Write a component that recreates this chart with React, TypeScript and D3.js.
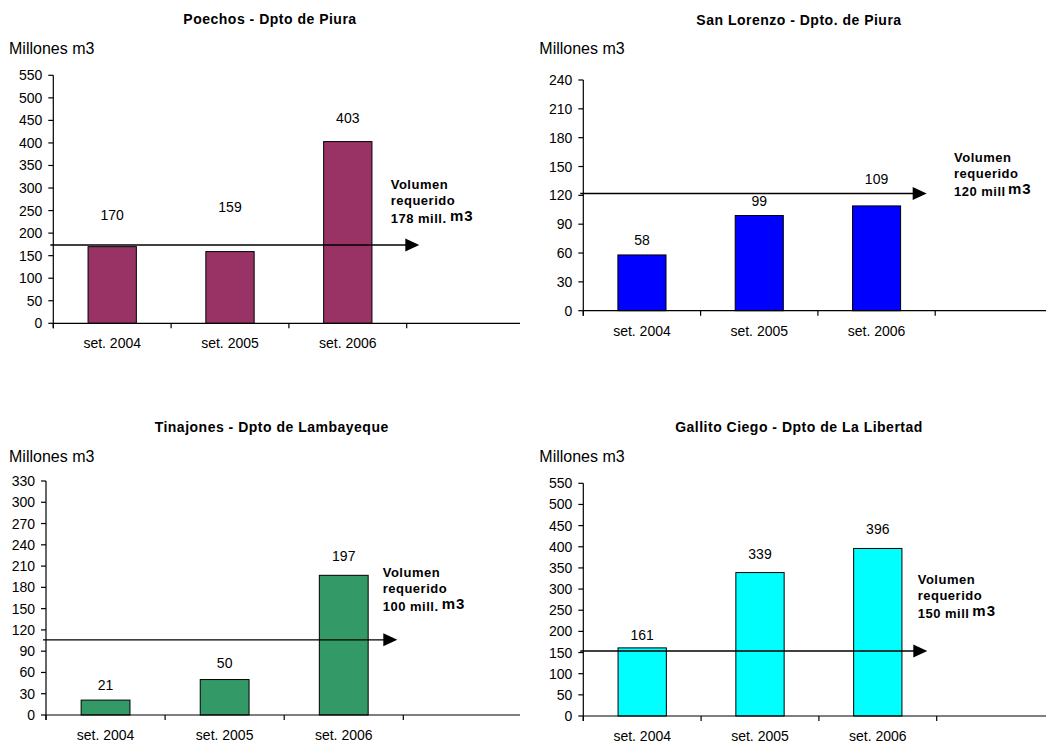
import * as d3 from 'd3';

// Categories (the 4th slot is empty in the original, it only stretches the axis)
const categories = ['set. 2004', 'set. 2005', 'set. 2006', ''];

// Reservoir volumes, millones m3
const poechosValues = [170, 159, 403];
const sanLorenzoValues = [58, 99, 109];
const tinajonesValues = [21, 50, 197];
const gallitoValues = [161, 339, 396];

// Y axis tick labels
const poechosTicks = [0, 50, 100, 150, 200, 250, 300, 350, 400, 450, 500, 550];
const sanLorenzoTicks = [0, 30, 60, 90, 120, 150, 180, 210, 240];
const tinajonesTicks = [0, 30, 60, 90, 120, 150, 180, 210, 240, 270, 300, 330];
const gallitoTicks = [0, 50, 100, 150, 200, 250, 300, 350, 400, 450, 500, 550];

// Where the value labels sit (in axis units)
const poechosLabelAt = [240, 258, 455];
const sanLorenzoLabelAt = [73.6, 114, 137];
const tinajonesLabelAt = [42.3, 72.9, 224];
const gallitoLabelAt = [191.5, 383, 442];

// Required volume arrows (drawn level and text)
const requiredLevel = [173.6, 122, 106, 153.6];
const requiredText = ['178 mill.', '120 mill', '100 mill.', '150 mill'];

const titles = [
    'Poechos - Dpto de Piura',
    'San Lorenzo - Dpto. de Piura',
    'Tinajones - Dpto de Lambayeque',
    'Gallito Ciego - Dpto de La Libertad',
];

const FONT = '"Liberation Sans", Arial, Helvetica, sans-serif';

type Layout = {
    axisX: number, y0: number, yTop: number, step: number, axisEnd: number,
    titleX: number, titleY: number, unitX: number, unitY: number,
    noteX: number, noteY: number, arrowEnd: number, m3X: number,
}

const layouts: Layout[] = [
    { axisX: 53.3, y0: 323.3, yTop: 75.3, step: 117.8, axisEnd: 520, titleX: 270, titleY: 24, unitX: 9, unitY: 54.3, noteX: 390.7, noteY: 189, arrowEnd: 419.3, m3X: 450 },
    { axisX: 583.3, y0: 310.7, yTop: 80, step: 117.3, axisEnd: 1046, titleX: 799, titleY: 25, unitX: 539.3, unitY: 54.3, noteX: 954, noteY: 162.3, arrowEnd: 926.7, m3X: 1008 },
    { axisX: 46, y0: 715, yTop: 481, step: 119.1, axisEnd: 520, titleX: 271.7, titleY: 432, unitX: 9, unitY: 462.3, noteX: 382.7, noteY: 577.3, arrowEnd: 397.3, m3X: 441.7 },
    { axisX: 583.3, y0: 716, yTop: 483.3, step: 117.8, axisEnd: 1046, titleX: 799, titleY: 432, unitX: 539.3, unitY: 462.3, noteX: 917.7, noteY: 584.3, arrowEnd: 927.3, m3X: 972.3 },
];

const fills = ['#993366', '#0000ff', '#339966', '#00ffff'];

function Panel(props: {
    layout: Layout, values: number[], ticks: number[], labelAt: number[],
    fill: string, title: string, level: number, reqText: string
}) {
    const L = props.layout;
    const yMax = props.ticks[props.ticks.length - 1];
    const y = d3.scaleLinear().domain([0, yMax]).range([L.y0, L.yTop]);
    const cells = d3.scaleBand<string>().domain(categories).range([L.axisX, L.axisX + L.step * categories.length]).padding(0);
    const bars = d3.scaleBand<string>().domain(categories)
        .range([L.axisX, L.axisX + L.step * categories.length])
        .paddingInner(0.59).paddingOuter(0.295);

    const ly = y(props.level);

    return (
        <g>
            <text x={L.titleX} y={L.titleY} textAnchor="middle" fontFamily={FONT} fontWeight="bold" fontSize={14} letterSpacing={0.5}>{props.title}</text>
            <text x={L.unitX} y={L.unitY} fontFamily={FONT} fontSize={16}>Millones m3</text>

            {/* bars */}
            {props.values.map((v, i) => (
                <rect key={i} x={bars(categories[i])!} y={y(v)} width={bars.bandwidth()} height={L.y0 - y(v)}
                    fill={props.fill} stroke="#000" strokeWidth={1} />
            ))}

            {/* value labels */}
            {props.values.map((v, i) => (
                <text key={i} x={cells(categories[i])! + cells.bandwidth() / 2} y={y(props.labelAt[i]) + 5}
                    textAnchor="middle" fontFamily={FONT} fontSize={14}>{v}</text>
            ))}

            {/* y axis */}
            <line x1={L.axisX} x2={L.axisX} y1={L.yTop} y2={L.y0 + 5} stroke="#000" strokeWidth={1.2} />
            {props.ticks.map(t => (
                <g key={t}>
                    <line x1={L.axisX - 5} x2={L.axisX} y1={y(t)} y2={y(t)} stroke="#000" strokeWidth={1.2} />
                    <text x={L.axisX - 11} y={y(t) + 5} textAnchor="end" fontFamily={FONT} fontSize={14}>{t}</text>
                </g>
            ))}

            {/* x axis */}
            <line x1={L.axisX} x2={L.axisEnd} y1={L.y0} y2={L.y0} stroke="#000" strokeWidth={1.2} />
            {categories.map((c, i) => (
                <g key={i}>
                    <line x1={cells(c)!} x2={cells(c)!} y1={L.y0} y2={L.y0 + 5} stroke="#000" strokeWidth={1.2} />
                    {c && <text x={cells(c)! + cells.bandwidth() / 2} y={L.y0 + 25} textAnchor="middle" fontFamily={FONT} fontSize={14}>{c}</text>}
                </g>
            ))}

            {/* required volume arrow */}
            <line x1={L.axisX - 3} x2={L.arrowEnd - 12} y1={ly} y2={ly} stroke="#000" strokeWidth={1.4} />
            <path d={`M${L.arrowEnd - 14},${ly - 6.5} L${L.arrowEnd},${ly} L${L.arrowEnd - 14},${ly + 6.5} Z`} fill="#000" />

            <g fontFamily={FONT} fontWeight="bold" fontSize={13} letterSpacing={0.5}>
                <text x={L.noteX} y={L.noteY}>Volumen</text>
                <text x={L.noteX} y={L.noteY + 16}>requerido</text>
                <text x={L.noteX} y={L.noteY + 34}>{props.reqText}</text>
                <text x={L.m3X} y={L.noteY + 32} fontSize={15} letterSpacing={1}>m3</text>
            </g>
        </g>
    );
}

export default function App() {
    const valueSets = [poechosValues, sanLorenzoValues, tinajonesValues, gallitoValues];
    const tickSets = [poechosTicks, sanLorenzoTicks, tinajonesTicks, gallitoTicks];
    const labelSets = [poechosLabelAt, sanLorenzoLabelAt, tinajonesLabelAt, gallitoLabelAt];

    return (
        <svg width={1046} height={743} style={{ position: 'absolute', left: 0, top: 0, background: '#fff' }}>
            <rect width={1046} height={743} fill="#fff" />
            {layouts.map((l, i) => (
                <Panel key={i} layout={l} values={valueSets[i]} ticks={tickSets[i]} labelAt={labelSets[i]}
                    fill={fills[i]} title={titles[i]} level={requiredLevel[i]} reqText={requiredText[i]} />
            ))}
        </svg>
    );
}
